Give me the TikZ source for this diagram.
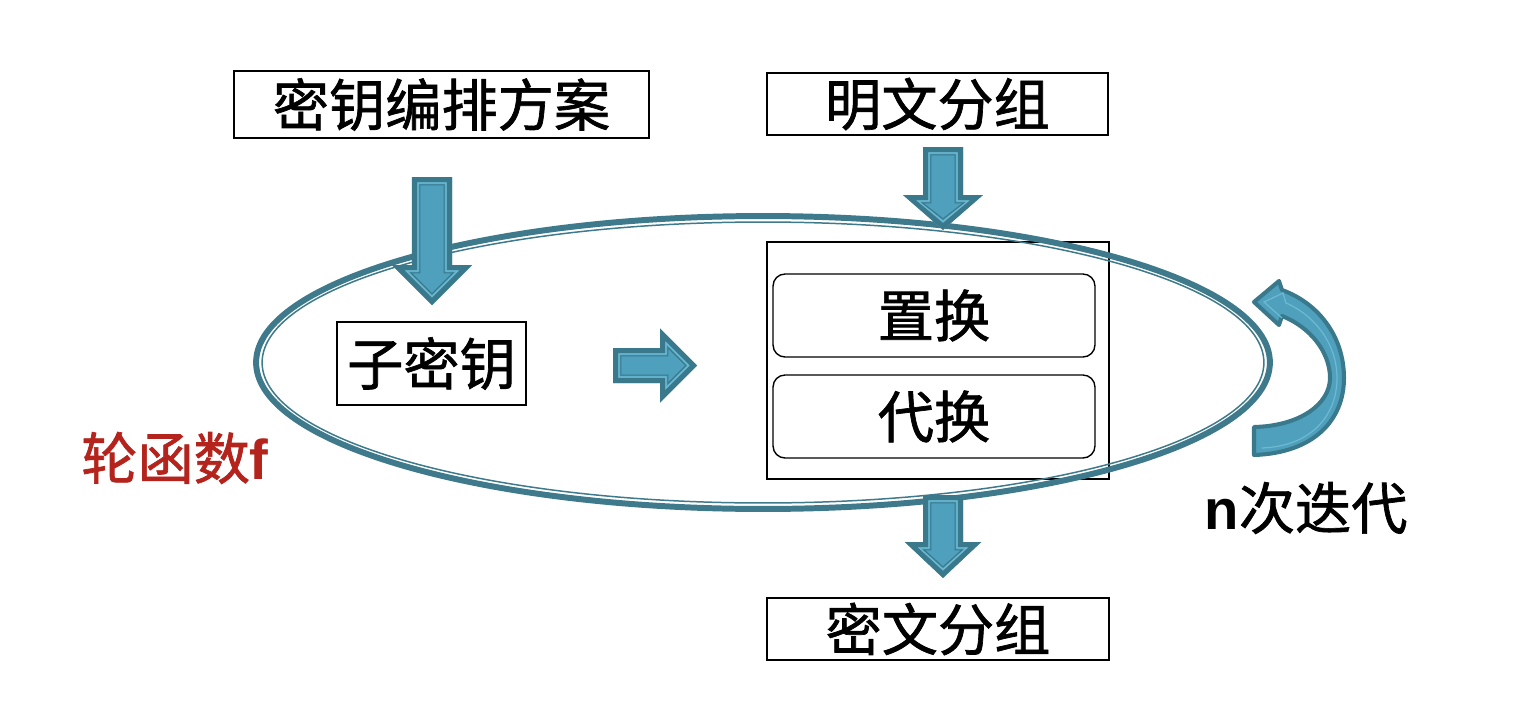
\documentclass[tikz,border=0pt]{standalone}
\usepackage{fontspec}
\newfontfamily\cjk[FakeBold=1.2]{Noto Sans CJK SC}
\newfontfamily\lsans{Liberation Sans}
\definecolor{arrdark}{RGB}{58,120,140}
\definecolor{arrfill}{RGB}{78,160,188}
\definecolor{arrlight}{RGB}{110,185,210}
\definecolor{ellc}{RGB}{62,122,140}
\definecolor{redc}{RGB}{180,35,28}
% down block arrow path: cx, top, headY, tip, shaft half, head half, inset, options
\newcommand\dnp[8]{\path[#8] (#1-#5+#7,#2+#7) -- (#1+#5-#7,#2+#7) -- (#1+#5-#7,#3+#7) -- (#1+#6-2.414*#7,#3+#7) -- (#1,#4-1.414*#7) -- (#1-#6+2.414*#7,#3+#7) -- (#1-#5+#7,#3+#7) -- cycle;}
% right block arrow path: cy, left, headX, tip, shaft half, head half, inset, options
\newcommand\rtp[8]{\path[#8] (#2+#7,#1-#5+#7) -- (#3+#7,#1-#5+#7) -- (#3+#7,#1-#6+2.414*#7) -- (#4-1.414*#7,#1) -- (#3+#7,#1+#6-2.414*#7) -- (#3+#7,#1+#5-#7) -- (#2+#7,#1+#5-#7) -- cycle;}
\newcommand\dnblk[6]{%
  \dnp{#1}{#2}{#3}{#4}{#5}{#6}{0}{fill=arrfill}
  \dnp{#1}{#2}{#3}{#4}{#5}{#6}{2.5}{draw=arrdark,line width=2.85pt}
  \dnp{#1}{#2}{#3}{#4}{#5}{#6}{6}{draw=arrlight,line width=0.7pt}
  \dnp{#1}{#2}{#3}{#4}{#5}{#6}{7.8}{draw=arrdark,line width=0.6pt}}
\newcommand\rtblk[6]{%
  \rtp{#1}{#2}{#3}{#4}{#5}{#6}{0}{fill=arrfill}
  \rtp{#1}{#2}{#3}{#4}{#5}{#6}{2.5}{draw=arrdark,line width=2.85pt}
  \rtp{#1}{#2}{#3}{#4}{#5}{#6}{6}{draw=arrlight,line width=0.7pt}
  \rtp{#1}{#2}{#3}{#4}{#5}{#6}{7.8}{draw=arrdark,line width=0.6pt}}
\begin{document}
\begin{tikzpicture}[x=0.02cm,y=-0.02cm,
  box/.style={draw=black,line width=1.1pt,inner sep=0pt,font=\cjk\fontsize{32}{38}\selectfont},
  rbox/.style={box,rounded corners=0.24cm,line width=0.8pt},
  lbl/.style={inner sep=0pt,font=\cjk\fontsize{32}{38}\selectfont}]
\path[use as bounding box,fill=white] (0,0) rectangle (1526,724);
% boxes
\node[box,minimum width=8.3cm,minimum height=1.34cm] (ks) at (441.5,104.5) {密钥编排方案};
\node[box,minimum width=6.82cm,minimum height=1.24cm] (pt) at (937.5,104) {明文分组};
\node[box,minimum width=3.78cm,minimum height=1.66cm] (sk) at (431.5,363.5) {子密钥};
\node[box,line width=0.9pt,minimum width=6.84cm,minimum height=4.74cm] (big) at (938,360.5) {};
\node[rbox,minimum width=6.44cm,minimum height=1.66cm] (perm) at (934,315.5) {置换};
\node[rbox,minimum width=6.44cm,minimum height=1.66cm] (subs) at (934,416.5) {代换};
\node[box,minimum width=6.84cm,minimum height=1.24cm] (ct) at (938,629) {密文分组};
% ellipse
\draw[ellc,line width=3.4pt] (763,362.5) ellipse [x radius=10.14cm,y radius=2.93cm];
\draw[ellc,line width=0.85pt] (763,362.5) ellipse [x radius=10.02cm,y radius=2.81cm];
% block arrows
\dnblk{432}{177}{265}{305}{20}{40}
\dnblk{943}{147}{195}{230}{20}{39.5}
\dnblk{943}{495}{542}{578}{20}{38}
\rtblk{365.5}{613}{660}{697}{17.5}{37}
% curved arrow
\path[fill=arrfill,draw=arrdark,line width=2.3pt,line join=round]
  (1254,455) .. controls (1314,453) and (1344,420) .. (1344,378)
  .. controls (1344,336) and (1318,303) .. (1282,290)
  -- (1279,281) -- (1254,302) -- (1279,325) -- (1282,316)
  .. controls (1310,327) and (1330,352) .. (1330,378)
  .. controls (1330,404) and (1300,426) .. (1254,427) -- cycle;
\draw[arrlight,line width=0.7pt] (1262,448) .. controls (1312,446) and (1337,415) .. (1337,378)
  .. controls (1337,345) and (1316,316) .. (1286,303) -- (1283,293) -- (1264,302) -- (1282,318);
% labels
\node[lbl,text=redc] (rf) at (175,458) {轮函数{\lsans\bfseries f}};
\node[lbl] (ni) at (1306,508) {{\lsans\bfseries n}次迭代};
\end{tikzpicture}
\end{document}
